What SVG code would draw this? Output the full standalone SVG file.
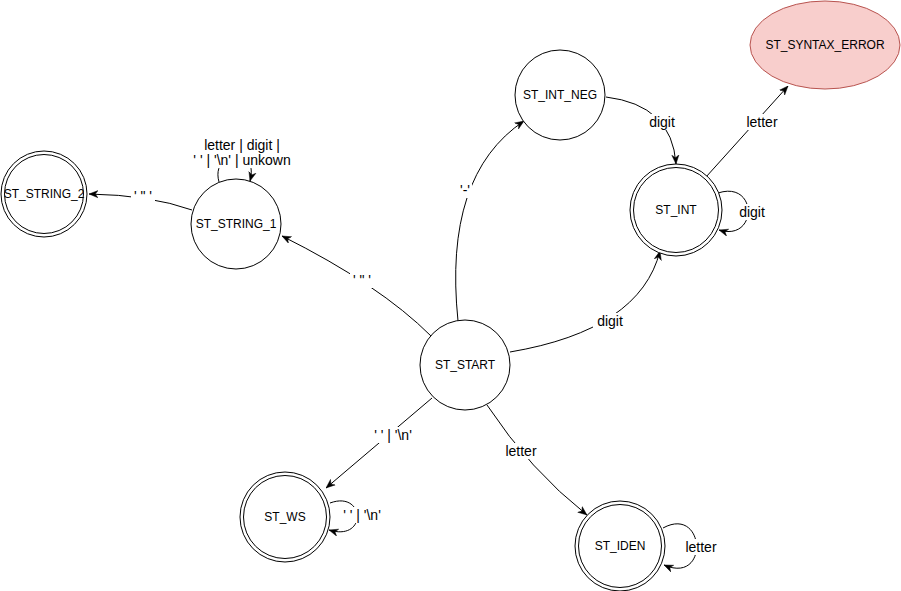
<svg xmlns="http://www.w3.org/2000/svg" width="901" height="591" viewBox="0 0 901 591">
  <style>
    .st { fill: #ffffff; stroke: #000000; stroke-width: 1; }
    .err { fill: #f8cecc; stroke: #b85450; stroke-width: 1; }
    .nl { font-family: "Liberation Sans", Arial, sans-serif; font-size: 12px; fill: #000000; text-anchor: middle; dominant-baseline: central; }
    .el { font-family: "Liberation Sans", Arial, sans-serif; font-size: 14px; fill: #000000; text-anchor: middle; dominant-baseline: central; }
    .edge { fill: none; stroke: #000000; stroke-width: 1; marker-end: url(#arrow); }
    .lbg { fill: #ffffff; stroke: none; }
  </style>
  <defs>
    <marker id="arrow" viewBox="0 0 10 10" refX="10" refY="5" markerWidth="9" markerHeight="9" markerUnits="userSpaceOnUse" orient="auto">
      <path d="M0,1 L10,5 L0,9 L3,5 Z" fill="#000000" stroke="#000000" stroke-width="0.5"/>
    </marker>
  </defs>
  <rect width="901" height="591" fill="#ffffff"/>

  <!-- transitions -->
  <g id="edges">
    <!-- START -> STRING_1 -->
    <path class="edge" d="M 431 336 Q 380 285 282 236"/>
    <!-- STRING_1 -> STRING_2 -->
    <path class="edge" d="M 192 210 Q 150 195 89 194"/>
    <!-- STRING_1 self loop -->
    <path class="edge" d="M 219 182 C 210 150 260 145 250 181"/>
    <!-- START -> INT_NEG -->
    <path class="edge" d="M 458 321 Q 443 175 524 121"/>
    <!-- INT_NEG -> INT -->
    <path class="edge" d="M 606 97 Q 672 105 676 164"/>
    <!-- INT -> SYNTAX_ERROR -->
    <path class="edge" d="M 706 177 L 788 86"/>
    <!-- INT self loop -->
    <path class="edge" d="M 718 193 C 758 180 758 242 719 230"/>
    <!-- START -> INT -->
    <path class="edge" d="M 510 352 Q 640 330 660 251"/>
    <!-- START -> WS -->
    <path class="edge" d="M 432 398 L 326 488"/>
    <!-- WS self loop -->
    <path class="edge" d="M 330 503 C 365 490 368 542 329 530"/>
    <!-- START -> IDEN -->
    <path class="edge" d="M 487 405 Q 530 470 587 515"/>
    <!-- IDEN self loop -->
    <path class="edge" d="M 663 528 C 705 505 710 585 664 565"/>

    <!-- transition labels -->
    <rect class="lbg" x="350" y="272" width="24" height="16"/>
    <text class="el" x="362" y="280">' " '</text>
    <rect class="lbg" x="131" y="188" width="24" height="16"/>
    <text class="el" x="143" y="196">' " '</text>
    <rect class="lbg" x="190" y="137" width="106" height="31"/>
    <text class="el" x="242" y="145">letter | digit |</text>
    <text class="el" x="242" y="160">' ' | '\n' | unkown</text>
    <rect class="lbg" x="459" y="182" width="13" height="16"/>
    <text class="el" x="465" y="190">'-'</text>
    <rect class="lbg" x="645" y="114" width="34" height="16"/>
    <text class="el" x="662" y="122">digit</text>
    <rect class="lbg" x="743" y="114" width="38" height="16"/>
    <text class="el" x="762" y="122">letter</text>
    <rect class="lbg" x="736" y="204" width="32" height="16"/>
    <text class="el" x="752" y="212">digit</text>
    <rect class="lbg" x="593" y="313" width="34" height="16"/>
    <text class="el" x="610" y="321">digit</text>
    <rect class="lbg" x="365" y="427" width="56" height="16"/>
    <text class="el" x="393" y="435">' ' | '\n'</text>
    <rect class="lbg" x="336" y="507" width="52" height="16"/>
    <text class="el" x="362" y="515">' ' | '\n'</text>
    <rect class="lbg" x="502" y="443" width="38" height="16"/>
    <text class="el" x="521" y="451">letter</text>
    <rect class="lbg" x="682" y="539" width="38" height="16"/>
    <text class="el" x="701" y="547">letter</text>
  </g>

  <!-- states -->
  <g id="st_start">
    <circle class="st" cx="465" cy="365" r="45"/>
    <text class="nl" x="465" y="365">ST_START</text>
  </g>
  <g id="st_string_1">
    <circle class="st" cx="236" cy="224" r="45"/>
    <text class="nl" x="236" y="224">ST_STRING_1</text>
  </g>
  <g id="st_string_2">
    <circle class="st" cx="44" cy="194" r="43"/>
    <circle class="st" cx="44" cy="194" r="39.5"/>
    <text class="nl" x="44" y="194">ST_STRING_2</text>
  </g>
  <g id="st_int_neg">
    <circle class="st" cx="560" cy="95" r="45"/>
    <text class="nl" x="560" y="95">ST_INT_NEG</text>
  </g>
  <g id="st_int">
    <circle class="st" cx="676" cy="210" r="46"/>
    <circle class="st" cx="676" cy="210" r="42.5"/>
    <text class="nl" x="676" y="210">ST_INT</text>
  </g>
  <g id="st_syntax_error">
    <ellipse class="err" cx="825" cy="45" rx="75" ry="44"/>
    <text class="nl" x="825" y="45">ST_SYNTAX_ERROR</text>
  </g>
  <g id="st_ws">
    <circle class="st" cx="285" cy="517" r="45"/>
    <circle class="st" cx="285" cy="517" r="41.5"/>
    <text class="nl" x="285" y="517">ST_WS</text>
  </g>
  <g id="st_iden">
    <circle class="st" cx="620" cy="546" r="45"/>
    <circle class="st" cx="620" cy="546" r="41.5"/>
    <text class="nl" x="620" y="546">ST_IDEN</text>
  </g>
</svg>
